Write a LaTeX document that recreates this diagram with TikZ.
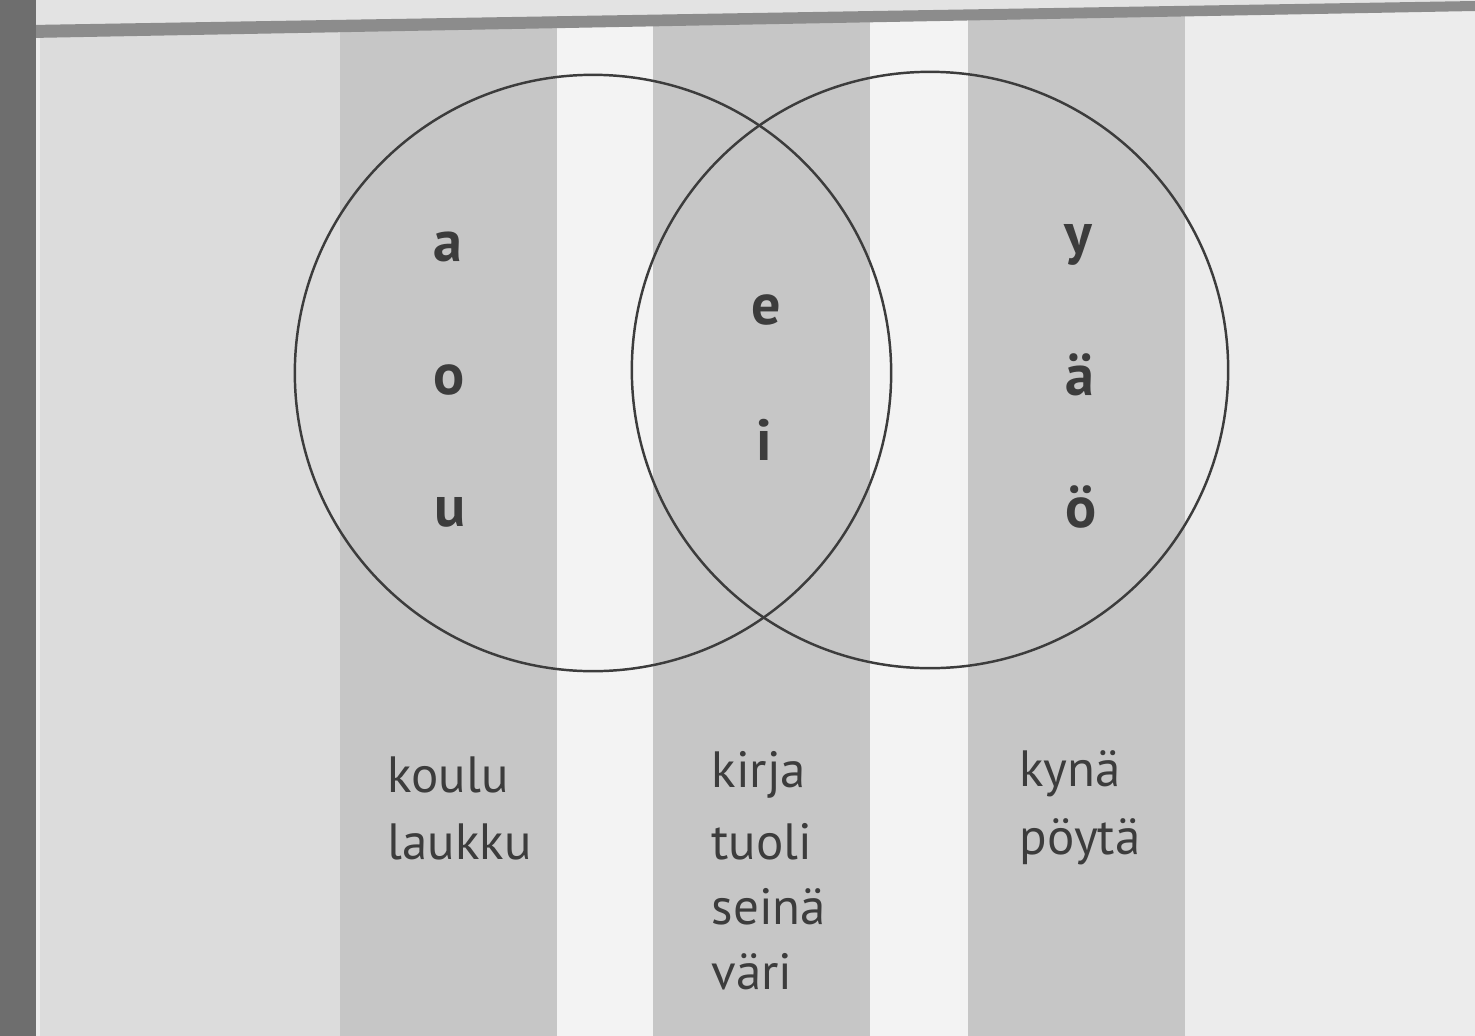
\documentclass[tikz,border=0pt]{standalone}
\usepackage{fontspec}
\setmainfont{PT Sans}
\usepackage{tikz}
\usetikzlibrary{positioning}
\definecolor{bandgray}{HTML}{6E6E6E}
\definecolor{stripegray}{HTML}{8C8C8C}
\definecolor{colgray}{HTML}{C6C6C6}
\definecolor{leftgray}{HTML}{DCDCDC}
\definecolor{rightgray}{HTML}{ECECEC}
\definecolor{gapgray}{HTML}{F3F3F3}
\definecolor{inkgray}{HTML}{3C3C3C}

\begin{document}
\begin{tikzpicture}[x=0.01cm, y=-0.01cm,
    vowel/.style={text=inkgray, font=\fontsize{16.5}{20}\selectfont\bfseries, inner sep=0pt},
    word/.style={text=inkgray, font=\fontsize{14.5}{18}\selectfont, inner sep=0pt, anchor=west},
    set/.style={draw=inkgray, line width=0.7pt, circle, minimum size=5.96cm, inner sep=0pt}]
    \useasboundingbox (0,0) rectangle (1475,1036);
    % page background and columns
    \fill [rightgray] (0,0) rectangle (1475,1036);
    \fill [leftgray] (40,0) rectangle (340,1036);
    \fill [colgray] (340,0) rectangle (557,1036);
    \fill [gapgray] (557,0) rectangle (653,1036);
    \fill [colgray] (653,0) rectangle (870,1036);
    \fill [gapgray] (870,0) rectangle (968,1036);
    \fill [colgray] (968,0) rectangle (1185,1036);
    \fill [leftgray!80!white] (30,0) -- (1475,0) -- (1475,2) -- (30,25) -- cycle;
    \fill [stripegray] (30,25) -- (1475,1) -- (1475,11) -- (30,38) -- cycle;
    \fill [bandgray] (0,0) rectangle (36,1036);

    % sets
    \node [set] (back) at (593,373) {};
    \node [set] (front) at (930,370) {};

    % vowels
    \node [vowel] (a) at (448,247) {a};
    \node [vowel] (o) at (449,380) {o};
    \node [vowel] (u) at (450,512) {u};
    \node [vowel] (e) at (766,310) {e};
    \node [vowel] (i) at (764,440) {i};
    \node [vowel] (y) at (1078,245) {y};
    \node [vowel] (ae) at (1080,375) {ä};
    \node [vowel] (oe) at (1081,507) {ö};

    % words
    \node [word] (koulu) at (387,775) {koulu};
    \node [word] (laukku) at (387,842) {laukku};
    \node [word] (kirja) at (711,775) {kirja};
    \node [word] (tuoli) at (711,842) {tuoli};
    \node [word] (seina) at (711,907) {seinä};
    \node [word] (vari) at (711,972) {väri};
    \node [word] (kyna) at (1019,774) {kynä};
    \node [word] (poyta) at (1019,842) {pöytä};
\end{tikzpicture}
\end{document}
